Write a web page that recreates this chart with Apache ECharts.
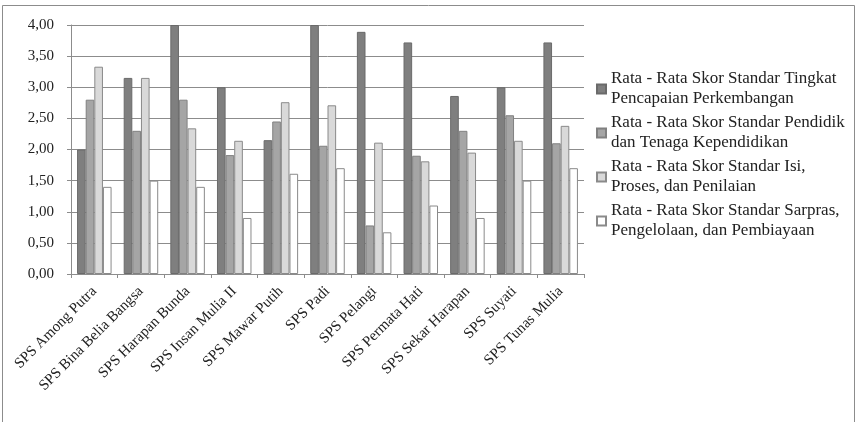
<!DOCTYPE html>
<html><head><meta charset="utf-8">
<script src="https://cdn.jsdelivr.net/npm/echarts@6/dist/echarts.min.js"></script>
<style>html,body{margin:0;padding:0;background:#fff}#c{width:863px;height:422px}</style>
</head><body><div id="c"></div>
<script>
const categories = ['SPS Among Putra','SPS Bina Belia Bangsa','SPS Harapan Bunda','SPS Insan Mulia II','SPS Mawar Putih','SPS Padi','SPS Pelangi','SPS Permata Hati','SPS Sekar Harapan','SPS Suyati','SPS Tunas Mulia'];
const seriesNames = ['Rata - Rata Skor Standar Tingkat\nPencapaian Perkembangan','Rata - Rata Skor Standar Pendidik\ndan Tenaga Kependidikan','Rata - Rata Skor Standar Isi,\nProses, dan Penilaian','Rata - Rata Skor Standar Sarpras,\nPengelolaan, dan Pembiayaan'];
const tingkat = [2.00,3.15,4.00,3.00,2.15,4.00,3.89,3.72,2.86,3.00,3.72];
const pendidik = [2.80,2.30,2.80,1.91,2.45,2.06,0.78,1.90,2.30,2.55,2.10];
const isi = [3.33,3.15,2.34,2.14,2.76,2.71,2.11,1.81,1.95,2.14,2.38];
const sarpras = [1.40,1.50,1.40,0.90,1.61,1.70,0.67,1.10,0.90,1.50,1.70];
const seriesData = [tingkat,pendidik,isi,sarpras];
const fills = ['#7f7f7f','#a5a5a5','#d9d9d9','#ffffff'];
const borders = ['#6a6a6a','#808080','#8a8a8a','#8a8a8a'];
const font = '"Liberation Serif","DejaVu Serif",serif';
const chart = echarts.init(document.getElementById('c'));
chart.setOption({
  backgroundColor:'#fff',
  animation:false,
  textStyle:{fontFamily:font},
  graphic:[{type:'rect',shape:{x:2.5,y:5.5,width:852,height:440},style:{fill:'none',stroke:'#8c8c8c',lineWidth:1},silent:true}],
  grid:{left:71,right:279,top:25,bottom:148},
  legend:{
    orient:'vertical',left:591,top:54,
    itemWidth:9,itemHeight:9,itemGap:-16,
    icon:'rect',
    textStyle:{fontFamily:font,fontSize:17,color:'#222',lineHeight:20,padding:[20,0,0,0]},
    data:seriesNames
  },
  xAxis:{
    type:'category',data:categories,
    axisLine:{lineStyle:{color:'#8c8c8c'}},
    axisTick:{show:true,alignWithLabel:false,length:4,lineStyle:{color:'#8c8c8c'}},
    axisLabel:{rotate:45,interval:0,fontFamily:font,fontSize:15,color:'#222',margin:15}
  },
  yAxis:{
    type:'value',min:0,max:4,interval:0.5,
    axisLine:{show:true,lineStyle:{color:'#8c8c8c'}},
    axisTick:{show:true,length:4,lineStyle:{color:'#8c8c8c'}},
    splitLine:{lineStyle:{color:'#8c8c8c'}},
    axisLabel:{fontFamily:font,fontSize:15,color:'#222',margin:17,formatter:v=>v.toFixed(2).replace('.',',')}
  },
  series:seriesData.map((d,i)=>({
    name:seriesNames[i],type:'bar',data:d,
    barGap:'0%',barCategoryGap:'26%',
    itemStyle:{color:fills[i],borderColor:borders[i],borderWidth:1}
  }))
});
</script></body></html>
